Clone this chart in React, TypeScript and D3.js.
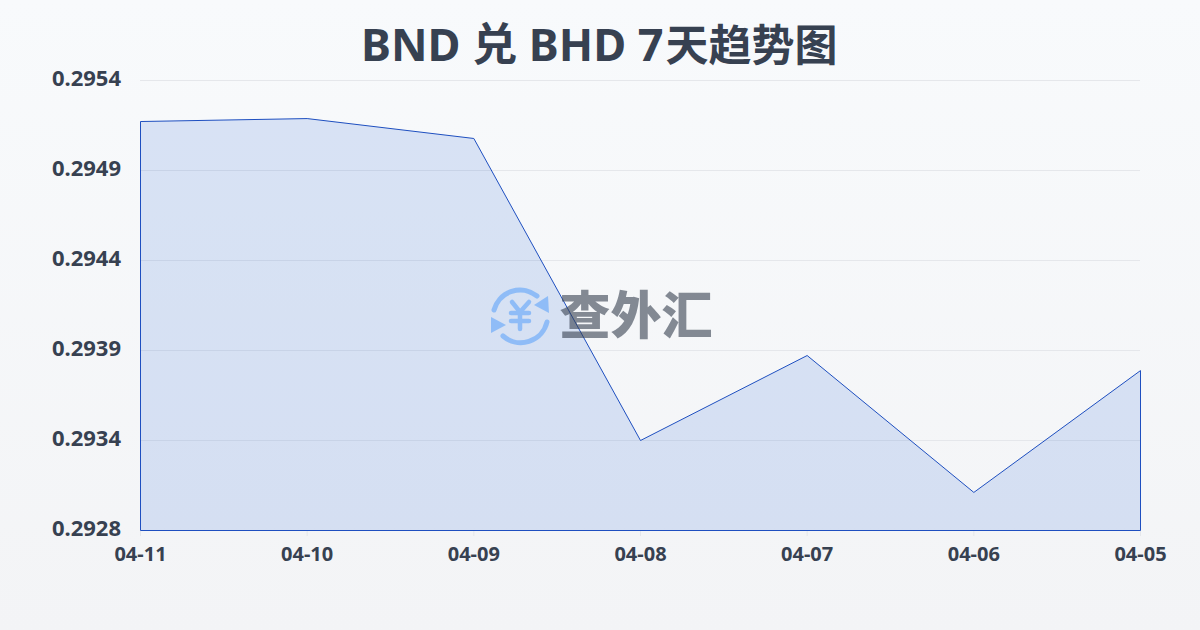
import React from "react";
import * as d3 from "d3";

const dates = ["04-11", "04-10", "04-09", "04-08", "04-07", "04-06", "04-05"];
const rates = [0.295163, 0.29518, 0.295065, 0.29332, 0.293811, 0.29302, 0.293724];
const yTickValues = [0.2928, 0.29332, 0.29384, 0.29436, 0.29488, 0.2954];
const yTickLabels = ["0.2928", "0.2934", "0.2939", "0.2944", "0.2949", "0.2954"];
const titleLatin = "BND 兑 BHD 7";
const titleCjk = "天趋势图";
const watermarkText = "查外汇";

const W = 1200, H = 630;
const FONT = "'Noto Sans', 'Noto Sans CJK SC', sans-serif";

export default function App() {
  const x = d3.scalePoint<string>().domain(dates).range([140.5, 1140.5]);
  const y = d3.scaleLinear().domain([0.2928, 0.2954]).range([530.5, 80.5]);
  const points = dates.map((d, i) => [x(d)!, y(rates[i])] as [number, number]);
  const area = d3.area<[number, number]>().x(p => p[0]).y0(y(0.2928)).y1(p => p[1]);
  const line = d3.line();
  const outline = line([
    [points[0][0], y(0.2928)],
    ...points,
    [points[points.length - 1][0], y(0.2928)],
    [points[0][0], y(0.2928)],
  ]);

  return (
    <svg width={W} height={H} viewBox={`0 0 ${W} ${H}`}
      style={{ position: "fixed", left: 0, top: 0, display: "block" }}>
      <defs>
        <linearGradient id="bg" x1="0" y1="0" x2="0" y2="1">
          <stop offset="0" stopColor="#f8fafc" />
          <stop offset="1" stopColor="#f3f4f6" />
        </linearGradient>
      </defs>
      <rect width={W} height={H} fill="url(#bg)" />
      <text x={361} y={60.5} textAnchor="start" fontFamily={FONT} fontWeight={700}
        fontSize={45} fill="#374151">{titleLatin}<tspan dx={2} fontSize={43}>{titleCjk}</tspan></text>

      {yTickValues.map(v => (
        <line key={v} x1={140} x2={1140} y1={y(v)} y2={y(v)} stroke="#e5e7eb" strokeWidth={1} />
      ))}
      {dates.map(d => (
        <line key={d} x1={x(d)} x2={x(d)} y1={530} y2={536} stroke="#e5e7eb" strokeWidth={1} />
      ))}
      <path d={area(points)!} fill="#1d5ad8" fillOpacity={0.14} />
      <path d={outline!} fill="none" stroke="#1e4fc0" strokeWidth={1} />

      {yTickValues.map((v, i) => (
        <text key={v} x={121} y={y(v) + 5} textAnchor="end" fontFamily={FONT} fontWeight={700}
          fontSize={22} fill="#374151">{yTickLabels[i]}</text>
      ))}
      {dates.map(d => (
        <text key={d} x={x(d)!} y={560.5} textAnchor="middle" fontFamily={FONT} fontWeight={700}
          fontSize={20} fill="#374151">{d}</text>
      ))}

      <g opacity={0.6}>
        <g fill="none" stroke="#60a5fa" strokeWidth={5} strokeLinecap="round">
          <path d="M494 310 A27 27 0 0 1 537 296" />
          <path d="M547 322 A27 27 0 0 1 503 336" />
          <path d="M512 302 L520 312 L529 302 M520 312 L520 329 M511 313 L529 313 M511 321 L529 321" strokeWidth={4.5} />
        </g>
        <path d="M548 296 L549 313 L534 305 Z" fill="#60a5fa" />
        <path d="M491 317 L491 333 L506 325 Z" fill="#60a5fa" />
        <text x={636} y={334} textAnchor="middle" fontFamily={FONT} fontWeight={900}
          fontSize={51} fill="#374151">{watermarkText}</text>
      </g>
    </svg>
  );
}
